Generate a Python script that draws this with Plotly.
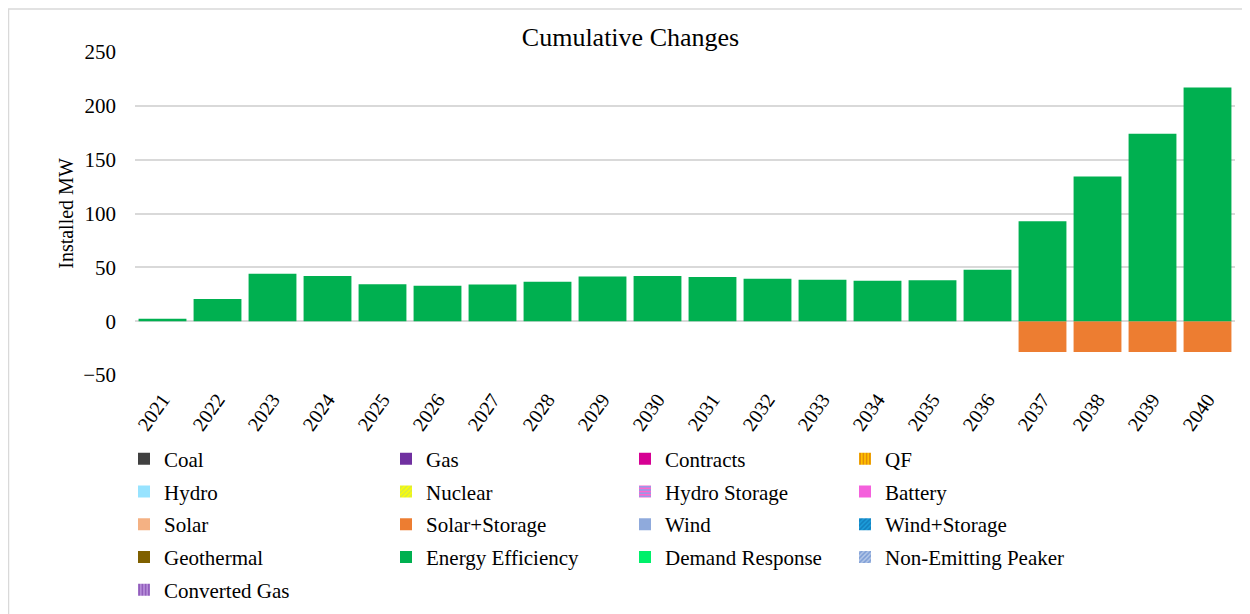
import plotly.graph_objs as go

years = [str(y) for y in range(2021, 2041)]

energy_efficiency = [2.3, 20.6, 44, 42, 34.4, 33, 34, 36.5, 41.5, 42,
                     41, 39.5, 38.5, 37.5, 38, 47.7, 92.9, 134.4, 174, 217]
solar_storage = [0] * 16 + [-28.6, -28.6, -28.6, -28.6]
zeros = [0] * 20

# resource name, values, colour, pattern (shape, fg colour)
resources = [
    ('Coal', zeros, '#404040', None),
    ('Gas', zeros, '#7030A0', None),
    ('Contracts', zeros, '#D60093', None),
    ('QF', zeros, '#FFC000', ('|', '#C55A11')),
    ('Hydro', zeros, '#97E3FF', None),
    ('Nuclear', zeros, '#FFFF00', ('/', '#A9D18E')),
    ('Hydro Storage', zeros, '#FF66CC', ('-', '#33CCFF')),
    ('Battery', zeros, '#F460DC', None),
    ('Solar', zeros, '#F4B183', None),
    ('Solar+Storage', solar_storage, '#ED7D31', None),
    ('Wind', zeros, '#8FAADC', None),
    ('Wind+Storage', zeros, '#1B9EDB', ('/', '#0B5E9E')),
    ('Geothermal', zeros, '#7F6000', None),
    ('Energy Efficiency', energy_efficiency, '#00B050', None),
    ('Demand Response', zeros, '#00F06A', None),
    ('Non-Emitting Peaker', zeros, '#B4C7E7', ('/', '#4472C4')),
    ('Converted Gas', zeros, '#B58CD8', ('|', '#7030A0')),
]

font = 'Liberation Serif, Times New Roman, serif'

W, H = 1250, 614
off = 8  # page body margin
# plot area in figure pixels
plot_l, plot_t, plot_w, plot_h = 135 - off, 52 - off, 1100, 326
plot_b = plot_t + plot_h
# legend layout (figure pixels): text x of each column, centre y of each row
col_text_x = [x - off for x in (164, 426, 665, 885)]
row_y = [y - off + 2 for y in (461, 494, 527, 560, 593)]

fig = go.Figure()
legends = {}

for i, (name, vals, color, pattern) in enumerate(resources):
    marker = dict(color=color, line=dict(width=0))
    if pattern:
        marker['pattern'] = dict(shape=pattern[0], fgcolor=pattern[1],
                                 bgcolor=color, size=4, solidity=0.5)
    leg = 'legend' if i == 0 else 'legend%d' % (i + 1)
    fig.add_trace(go.Bar(x=years, y=vals, name=name, marker=marker,
                         legend=leg, showlegend=True))
    col, row = i % 4, i // 4
    legends[leg] = dict(
        visible=True,
        x=(col_text_x[col] - 40 - plot_l) / plot_w, xanchor='left',
        y=(plot_b - row_y[row]) / plot_h, yanchor='middle',
        font=dict(family=font, size=21, color='#000000'),
        bgcolor='rgba(0,0,0,0)', itemclick=False)

fig.update_layout(
    width=W, height=H, showlegend=True,
    barmode='relative', bargap=0.13,
    plot_bgcolor='white', paper_bgcolor='white',
    margin=dict(l=plot_l, r=W - plot_l - plot_w, t=plot_t, b=H - plot_b),
    font=dict(family=font, size=20, color='#000000'),
    title=dict(text='Cumulative Changes', x=0.498, xanchor='center',
               y=0.953, yanchor='middle', font=dict(family=font, size=26)),
    yaxis=dict(range=[-50, 250], dtick=50, showgrid=True, gridcolor='#D9D9D9',
               gridwidth=1.5, zeroline=True, zerolinecolor='#D9D9D9',
               zerolinewidth=1.5, ticks='', tickfont=dict(size=21),
               ticklabelstandoff=18,
               title=dict(text='Installed MW', standoff=4,
                          font=dict(size=20))),
    xaxis=dict(tickangle=-55, showgrid=False, ticks='', showline=False,
               tickfont=dict(size=20), ticklabelstandoff=8),
    shapes=[dict(type='rect', xref='paper', yref='paper',
                 x0=(0.5 - plot_l) / plot_w, x1=(W + 20 - plot_l) / plot_w,
                 y0=(plot_b - H - 20) / plot_h, y1=(plot_b - 0.5) / plot_h,
                 line=dict(color='#D9D9D9', width=1.5), layer='below')],
    **legends,
)

fig.write_html("out.html")
